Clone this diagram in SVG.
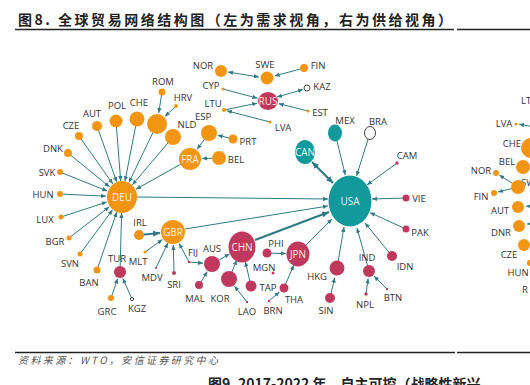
<svg xmlns="http://www.w3.org/2000/svg" width="530" height="385" viewBox="0 0 530 385">
<defs>
<style>
.e{stroke:#2E7B86;stroke-width:1;fill:none;marker-end:url(#ah)}
.e2{stroke:#2E7B86;stroke-width:1;fill:none;marker-end:url(#ah);marker-start:url(#ah)}
.t{stroke:#2E7B86;stroke-width:2.2;fill:none;marker-end:url(#ahL)}
.o{fill:#F29512}
.r{fill:#C0395C}
.c{fill:#12999B}
.h{fill:#fff;stroke:#444;stroke-width:1}
.l{font-family:"Open Sans","Noto Sans",sans-serif;font-size:9.5px;fill:#333;text-anchor:middle}
.w{font-family:"Open Sans","Noto Sans",sans-serif;font-size:10px;fill:#fff;fill-opacity:0.9;text-anchor:middle}
</style>
<marker id="ah" viewBox="0 0 6 6" refX="6" refY="3" markerWidth="5" markerHeight="5" orient="auto-start-reverse" markerUnits="userSpaceOnUse"><path d="M0,0.4 L6,3 L0,5.6 z" fill="#2E7B86"/></marker>
<marker id="ahL" viewBox="0 0 6 6" refX="6" refY="3" markerWidth="7" markerHeight="7" orient="auto-start-reverse" markerUnits="userSpaceOnUse"><path d="M0,0.4 L6,3 L0,5.6 z" fill="#2E7B86"/></marker>
</defs>
<rect width="530" height="385" fill="#fff"/>
<text x="18" y="25" font-family="'Noto Sans CJK SC',sans-serif" font-size="14" font-weight="bold" fill="#222" textLength="434" lengthAdjust="spacing">图8. 全球贸易网络结构图（左为需求视角，右为供给视角）</text>
<line x1="15" y1="29.5" x2="454" y2="29.5" stroke="#222" stroke-width="1.5"/>
<line x1="457" y1="29.5" x2="530" y2="29.5" stroke="#222" stroke-width="1.5"/>
<g id="edges">
<line class="e" x1="68" y1="153" x2="109.6" y2="186.9"/>
<line class="e" x1="79" y1="136" x2="112.8" y2="183.9"/>
<line class="e" x1="97" y1="126" x2="116.7" y2="181.9"/>
<line class="e" x1="116" y1="121" x2="120.7" y2="181"/>
<line class="e" x1="137" y1="119" x2="125" y2="181.3"/>
<line class="e" x1="157" y1="124" x2="128.9" y2="182.6"/>
<line class="e" x1="173" y1="137" x2="132.4" y2="184.8"/>
<line class="e" x1="190" y1="159" x2="136" y2="189.2"/>
<line class="e" x1="60" y1="172" x2="107.2" y2="191"/>
<line class="e" x1="60" y1="194" x2="106" y2="196.2"/>
<line class="e" x1="61" y1="217" x2="106.8" y2="202"/>
<line class="e" x1="69" y1="238" x2="109.3" y2="206.8"/>
<line class="e" x1="80" y1="254" x2="112.5" y2="209.9"/>
<line class="e" x1="97" y1="270" x2="116.8" y2="212.1"/>
<line class="e" x1="120" y1="272" x2="121.6" y2="213"/>
<line class="e" x1="162" y1="92" x2="158.7" y2="113"/>
<line class="e" x1="176" y1="106" x2="165" y2="116.4"/>
<line class="e" x1="209" y1="133" x2="197.1" y2="149.3"/>
<line class="e" x1="233" y1="139" x2="217.7" y2="135.2"/>
<line class="e" x1="219" y1="158" x2="202" y2="158.6"/>
<line class="e" x1="111" y1="298" x2="117.7" y2="278.6"/>
<line class="e" x1="132" y1="299" x2="122.8" y2="278.4"/>
<line class="e" x1="137" y1="197" x2="328" y2="199"/>
<line class="e" x1="185" y1="229" x2="328" y2="206"/>
<line class="t" x1="255" y1="240" x2="329" y2="212"/>
<line class="e" x1="305" y1="246" x2="332" y2="219"/>
<line class="t" x1="139" y1="235" x2="160" y2="233"/>
<line class="e" x1="145" y1="252" x2="162.4" y2="239.6"/>
<line class="e" x1="156" y1="268" x2="167.9" y2="242.9"/>
<line class="e" x1="174" y1="273" x2="173.3" y2="245"/>
<line class="e" x1="189" y1="262" x2="179.1" y2="243.4"/>
<line class="e" x1="189" y1="262" x2="203" y2="263.2"/>
<line class="e" x1="199" y1="285" x2="207.3" y2="271.6"/>
<line class="e" x1="212" y1="264" x2="229.5" y2="254"/>
<line class="e" x1="229" y1="279" x2="236.7" y2="260"/>
<line class="e" x1="251" y1="286" x2="245.3" y2="261.6"/>
<line class="e" x1="247" y1="302" x2="234.5" y2="286.1"/>
<line class="e" x1="267" y1="253" x2="286" y2="253.6"/>
<line class="e" x1="284" y1="288" x2="293.8" y2="265.1"/>
<line class="e" x1="269" y1="301" x2="279.5" y2="291.9"/>
<line class="e" x1="330" y1="298" x2="334.7" y2="277.7"/>
<line class="e" x1="337" y1="268" x2="344" y2="227"/>
<line class="e" x1="369" y1="271" x2="357" y2="228"/>
<line class="e" x1="366" y1="294" x2="368.1" y2="278.5"/>
<line class="e" x1="387" y1="289" x2="374" y2="276"/>
<line class="e" x1="392" y1="256" x2="365" y2="223"/>
<line class="e" x1="406" y1="229" x2="370" y2="212.6"/>
<line class="e" x1="406" y1="198" x2="372" y2="199"/>
<line class="e" x1="397" y1="163" x2="367" y2="185"/>
<line class="e" x1="370" y1="133" x2="356.5" y2="176"/>
<line class="e" x1="335" y1="133" x2="345.3" y2="175"/>
<line class="t" x1="312" y1="162" x2="333" y2="183" marker-start="url(#ahL)"/>
<line class="e2" x1="228" y1="72" x2="259" y2="77"/>
<line class="e" x1="304" y1="68" x2="274.7" y2="75.9"/>
<line class="e" x1="223" y1="89" x2="257.4" y2="98.2"/>
<line class="e" x1="224" y1="110" x2="257.2" y2="103.2"/>
<line class="e2" x1="277" y1="97" x2="303" y2="89.5"/>
<line class="e" x1="308" y1="111" x2="278.7" y2="103.7"/>
<line class="e" x1="270" y1="122" x2="227" y2="110.8"/>
<line class="e" x1="535" y1="127" x2="519" y2="124.2"/>
<line class="e" x1="518" y1="187" x2="499.4" y2="175.1"/>
<line class="e" x1="518" y1="187" x2="497.9" y2="192"/>
<line class="e" x1="540" y1="206" x2="526" y2="206.3"/>
<line class="e" x1="540" y1="223" x2="527" y2="224"/>
</g>
<g id="node-DEU"><ellipse class="o" cx="122" cy="197" rx="15" ry="16"/><text class="w" x="122" y="200.5">DEU</text></g>
<g id="node-GBR"><circle class="o" cx="173" cy="232" r="12"/><text class="w" x="173" y="235.5">GBR</text></g>
<g id="node-FRA"><circle class="o" cx="190" cy="159" r="11"/><text class="w" x="190" y="162.5">FRA</text></g>
<g id="node-USA"><ellipse class="c" cx="350" cy="201" rx="21.5" ry="25.5"/><text class="w" x="350" y="204.5">USA</text></g>
<g id="node-CHN"><ellipse class="r" cx="242" cy="247" rx="13.5" ry="15.5"/><text class="w" x="242" y="250.5">CHN</text></g>
<g id="node-JPN"><ellipse class="r" cx="298" cy="254" rx="11.5" ry="12.5"/><text class="w" x="298" y="257.5">JPN</text></g>
<g id="node-RUS"><ellipse class="r" cx="268" cy="101" rx="10" ry="9"/><text class="w" x="268" y="104.5">RUS</text></g>
<g id="node-CAN"><ellipse class="c" cx="305" cy="152" rx="10" ry="12"/><text class="w" x="305" y="155.5">CAN</text></g>
<g id="node-MEX"><ellipse class="c" cx="335" cy="133" rx="7" ry="8.5"/><text class="l" x="345" y="123.5">MEX</text></g>
<g id="node-BRA"><ellipse class="h" cx="370" cy="133" rx="5.5" ry="6.5"/><text class="l" x="378" y="124.5">BRA</text></g>
<g id="node-CAM"><circle class="r" cx="397" cy="163" r="1.7"/><text class="l" x="407" y="158.5">CAM</text></g>
<g id="node-VIE"><circle class="r" cx="406" cy="198" r="3.5"/><text class="l" x="419" y="201.5">VIE</text></g>
<g id="node-PAK"><circle class="r" cx="406" cy="229" r="3.5"/><text class="l" x="420" y="235.5">PAK</text></g>
<g id="node-IDN"><circle class="r" cx="392" cy="256" r="5"/><text class="l" x="405" y="269.5">IDN</text></g>
<g id="node-IND"><circle class="r" cx="369" cy="271" r="6"/><text class="l" x="367" y="260.5">IND</text></g>
<g id="node-NPL"><circle class="r" cx="366" cy="294" r="1.7"/><text class="l" x="365" y="307.5">NPL</text></g>
<g id="node-BTN"><circle class="r" cx="387" cy="289" r="1.2"/><text class="l" x="393" y="300.5">BTN</text></g>
<g id="node-HKG"><circle class="r" cx="337" cy="268" r="7.5"/><text class="l" x="317" y="279.5">HKG</text></g>
<g id="node-SIN"><circle class="r" cx="330" cy="298" r="5"/><text class="l" x="326" y="313.5">SIN</text></g>
<g id="node-PHI"><circle class="r" cx="267" cy="253" r="4.5"/><text class="l" x="276" y="246.5">PHI</text></g>
<g id="node-MGN"><circle class="r" cx="273" cy="273" r="1.5"/><text class="l" x="264" y="270.5">MGN</text></g>
<g id="node-THA"><circle class="r" cx="284" cy="288" r="4.5"/><text class="l" x="294" y="302.5">THA</text></g>
<g id="node-BRN"><circle class="r" cx="269" cy="301" r="1.2"/><text class="l" x="273" y="313.5">BRN</text></g>
<g id="node-TAP"><circle class="r" cx="251" cy="286" r="5.5"/><text class="l" x="268" y="290.5">TAP</text></g>
<g id="node-LAO"><circle class="r" cx="247" cy="302" r="1.2"/><text class="l" x="247" y="314.5">LAO</text></g>
<g id="node-KOR"><circle class="r" cx="229" cy="279" r="8"/><text class="l" x="220" y="301.5">KOR</text></g>
<g id="node-MAL"><circle class="r" cx="199" cy="285" r="4"/><text class="l" x="195" y="301.5">MAL</text></g>
<g id="node-AUS"><circle class="r" cx="212" cy="264" r="8"/><text class="l" x="212" y="251.5">AUS</text></g>
<g id="node-FIJ"><circle class="r" cx="189" cy="262" r="1.2"/><text class="l" x="193" y="255.5">FIJ</text></g>
<g id="node-SRI"><circle class="r" cx="174" cy="273" r="2"/><text class="l" x="174" y="287.5">SRI</text></g>
<g id="node-MDV"><circle class="r" cx="156" cy="268" r="1"/><text class="l" x="152" y="280.5">MDV</text></g>
<g id="node-MLT"><circle class="o" cx="145" cy="252" r="1.5"/><text class="l" x="138" y="264.5">MLT</text></g>
<g id="node-IRL"><circle class="o" cx="139" cy="235" r="5"/><text class="l" x="140" y="225.5">IRL</text></g>
<g id="node-TUR"><circle class="r" cx="120" cy="272" r="6"/><text class="l" x="117" y="261.5">TUR</text></g>
<g id="node-GRC"><circle class="o" cx="111" cy="298" r="3"/><text class="l" x="107" y="314.5">GRC</text></g>
<g id="node-KGZ"><circle class="h" cx="132" cy="299" r="1.6" stroke-width="0.8"/><text class="l" x="137" y="311.5">KGZ</text></g>
<g id="node-BAN"><circle class="o" cx="97" cy="270" r="3.5"/><text class="l" x="89" y="285.5">BAN</text></g>
<g id="node-SVN"><circle class="o" cx="80" cy="254" r="2.5"/><text class="l" x="70" y="266.5">SVN</text></g>
<g id="node-BGR"><circle class="o" cx="69" cy="238" r="2.5"/><text class="l" x="55" y="244.5">BGR</text></g>
<g id="node-LUX"><circle class="o" cx="61" cy="217" r="2.5"/><text class="l" x="45" y="222.5">LUX</text></g>
<g id="node-HUN"><circle class="o" cx="60" cy="194" r="3"/><text class="l" x="43" y="197.5">HUN</text></g>
<g id="node-SVK"><circle class="o" cx="60" cy="172" r="3"/><text class="l" x="47" y="175.5">SVK</text></g>
<g id="node-DNK"><circle class="o" cx="68" cy="153" r="4"/><text class="l" x="53" y="151.5">DNK</text></g>
<g id="node-CZE"><circle class="o" cx="79" cy="136" r="4"/><text class="l" x="71" y="128.5">CZE</text></g>
<g id="node-AUT"><circle class="o" cx="97" cy="126" r="5"/><text class="l" x="92" y="116.5">AUT</text></g>
<g id="node-POL"><circle class="o" cx="116" cy="121" r="6.5"/><text class="l" x="117" y="108.5">POL</text></g>
<g id="node-CHE"><circle class="o" cx="137" cy="119" r="7.5"/><text class="l" x="139" y="105.5">CHE</text></g>
<g id="node-X"><circle class="o" cx="157" cy="124" r="10"/></g>
<g id="node-NLD"><circle class="o" cx="173" cy="137" r="8"/><text class="l" x="187" y="127.5">NLD</text></g>
<g id="node-ROM"><circle class="o" cx="162" cy="92" r="3.5"/><text class="l" x="163" y="84.5">ROM</text></g>
<g id="node-HRV"><circle class="o" cx="176" cy="106" r="2"/><text class="l" x="183" y="100.5">HRV</text></g>
<g id="node-ESP"><circle class="o" cx="209" cy="133" r="8"/><text class="l" x="203" y="119.5">ESP</text></g>
<g id="node-PRT"><circle class="o" cx="233" cy="139" r="4.5"/><text class="l" x="248" y="144.5">PRT</text></g>
<g id="node-BEL"><circle class="o" cx="219" cy="158" r="7"/><text class="l" x="236" y="162.5">BEL</text></g>
<g id="node-NOR"><circle class="o" cx="221" cy="71" r="6"/><text class="l" x="203" y="68.5">NOR</text></g>
<g id="node-SWE"><circle class="o" cx="267" cy="78" r="6.5"/><text class="l" x="265" y="67.5">SWE</text></g>
<g id="node-FIN"><circle class="o" cx="304" cy="68" r="4"/><text class="l" x="318" y="68.5">FIN</text></g>
<g id="node-CYP"><circle class="o" cx="223" cy="89" r="1.6"/><text class="l" x="211" y="88.5">CYP</text></g>
<g id="node-KAZ"><circle class="h" cx="307" cy="88" r="3"/><text class="l" x="322" y="89.5">KAZ</text></g>
<g id="node-LTU"><circle class="o" cx="224" cy="110" r="2"/><text class="l" x="213" y="106.5">LTU</text></g>
<g id="node-EST"><circle class="o" cx="308" cy="111" r="1.6"/><text class="l" x="320" y="115.5">EST</text></g>
<g id="node-LVA"><circle class="o" cx="270" cy="122" r="1.6"/><text class="l" x="283" y="130.5">LVA</text></g>
<g id="node-R-LTU"><text class="l" x="521" y="103.5" style="text-anchor:start">LTU</text></g>
<g id="node-R-SWE"><text class="l" x="521" y="186" style="text-anchor:start">SWE</text><circle class="o" cx="518" cy="187" r="7"/></g>
<g id="node-R-LVA"><circle class="o" cx="516" cy="124" r="1.6"/><text class="l" x="504" y="126.5">LVA</text></g>
<g id="node-R-CHE"><circle class="o" cx="531" cy="148" r="10"/><text class="l" x="512" y="146.5">CHE</text></g>
<g id="node-R-BEL"><circle class="o" cx="523" cy="167" r="7"/><text class="l" x="507" y="164.5">BEL</text></g>
<g id="node-R-NOR"><circle class="o" cx="496" cy="173" r="3"/><text class="l" x="481" y="173.5">NOR</text></g>
<g id="node-R-FIN"><circle class="o" cx="494" cy="193" r="3"/><text class="l" x="481" y="199.5">FIN</text></g>
<g id="node-R-AUT"><circle class="o" cx="518" cy="207" r="6"/><text class="l" x="500" y="213.5">AUT</text></g>
<g id="node-R-DNR"><circle class="o" cx="519" cy="226" r="6"/><text class="l" x="501" y="235.5">DNR</text></g>
<g id="node-R-CZE"><circle class="o" cx="524" cy="245" r="6"/><text class="l" x="509" y="257.5">CZE</text></g>
<g id="node-R-HUN"><circle class="o" cx="530" cy="263" r="3"/><text class="l" x="518" y="275.5">HUN</text></g>
<g id="node-R-R"><text class="l" x="522" y="293" style="text-anchor:start">R</text></g>
<line x1="15" y1="352.5" x2="455" y2="352.5" stroke="#222" stroke-width="1.5"/>
<line x1="457" y1="352.5" x2="530" y2="352.5" stroke="#222" stroke-width="1.5"/>
<text x="18" y="364" font-family="'Noto Sans CJK SC',sans-serif" font-size="10" font-style="italic" fill="#555" textLength="200" lengthAdjust="spacing">资料来源：WTO，安信证券研究中心</text>
<text x="208" y="389" font-family="'Noto Sans CJK SC',sans-serif" font-size="14" font-weight="bold" fill="#222">图9. 2017-2022 年，自主可控（战略性新兴</text>
</svg>
